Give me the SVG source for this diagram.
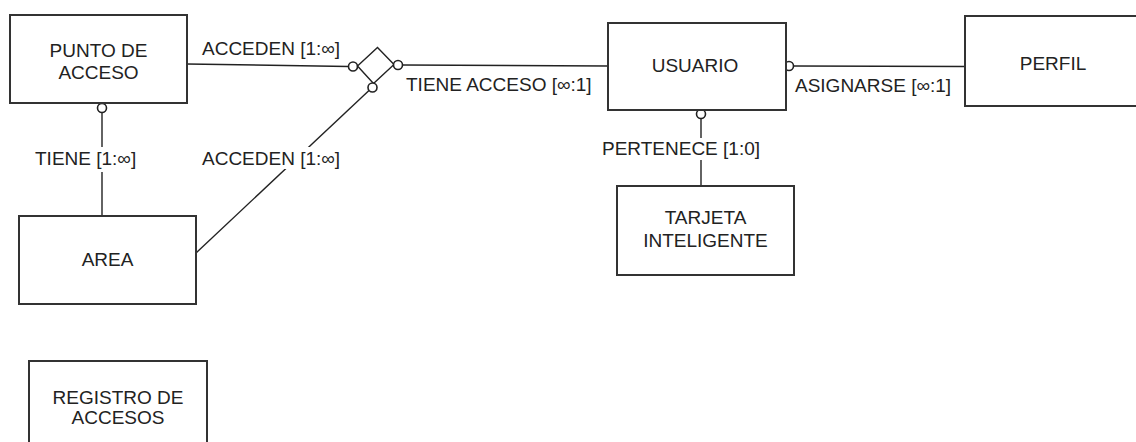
<svg xmlns="http://www.w3.org/2000/svg" width="1136" height="442" viewBox="0 0 1136 442">
<style>
.box{fill:#fff;stroke:#333;stroke-width:2}
.t{font-family:"Liberation Sans",Arial,sans-serif;font-size:19px;fill:#222}
.c{text-anchor:middle}
.ln{stroke:#222;stroke-width:1.4;fill:none}
.o{fill:#fff;stroke:#222;stroke-width:1.6}
.bg{fill:#fff}
</style>
<rect width="1136" height="442" fill="#fff"/>
<g id="connectors">
<line class="ln" x1="187" y1="64" x2="348.5" y2="66.5"/>
<circle class="o" cx="353" cy="66.5" r="4.5"/>
<polygon class="ln" points="357.5,66 377.5,47.5 394,64.5 373.5,83.5"/>
<circle class="o" cx="398" cy="65" r="4.5"/>
<line class="ln" x1="402.5" y1="65" x2="608" y2="66"/>
<line class="ln" x1="369" y1="90.5" x2="196" y2="253"/>
<circle class="o" cx="372.5" cy="87.5" r="4.5"/>
<line class="ln" x1="102" y1="112.5" x2="102" y2="216"/>
<circle class="o" cx="102" cy="108" r="4.5"/>
<line class="ln" x1="701" y1="118.5" x2="701" y2="186"/>
<circle class="o" cx="701" cy="114" r="4.5"/>
<line class="ln" x1="793.5" y1="66" x2="965" y2="66.5"/>
<circle class="o" cx="789" cy="66" r="4.5"/>
<text class="t" x="202" y="55">ACCEDEN [1:∞]</text>
<text class="t" x="406" y="91">TIENE ACCESO [∞:1]</text>
<text class="t" x="795" y="92">ASIGNARSE [∞:1]</text>
<rect class="bg" x="598" y="138" width="172" height="22"/>
<text class="t" x="602" y="155">PERTENECE [1:0]</text>
<rect class="bg" x="32" y="147" width="108" height="25"/>
<text class="t" x="35" y="165">TIENE [1:∞]</text>
<rect class="bg" x="199" y="147" width="146" height="22"/>
<text class="t" x="202" y="165">ACCEDEN [1:∞]</text>
</g>
<g id="punto-de-acceso">
<rect class="box" x="10" y="15" width="177" height="88"/>
<text class="t c" x="98.5" y="57">PUNTO DE</text>
<text class="t c" x="98.5" y="79">ACCESO</text>
</g>
<g id="area">
<rect class="box" x="19" y="216" width="177" height="88"/>
<text class="t c" x="107.5" y="266">AREA</text>
</g>
<g id="usuario">
<rect class="box" x="608" y="23" width="178" height="87"/>
<text class="t c" x="695" y="72">USUARIO</text>
</g>
<g id="perfil">
<rect class="box" x="965" y="16" width="175" height="90"/>
<text class="t c" x="1053" y="70">PERFIL</text>
</g>
<g id="tarjeta-inteligente">
<rect class="box" x="617" y="186" width="177" height="89"/>
<text class="t c" x="705.5" y="224">TARJETA</text>
<text class="t c" x="705.5" y="247">INTELIGENTE</text>
</g>
<g id="registro-de-accesos">
<rect class="box" x="29" y="361" width="178" height="90"/>
<text class="t c" x="118" y="404">REGISTRO DE</text>
<text class="t c" x="118" y="424">ACCESOS</text>
</g>
</svg>
